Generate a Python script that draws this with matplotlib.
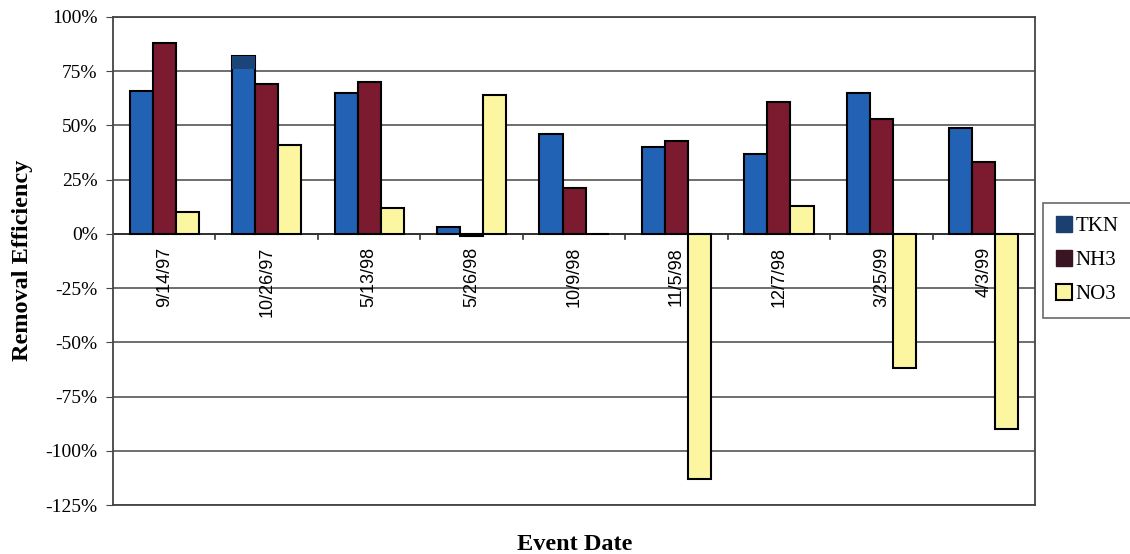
import numpy as np
import matplotlib.pyplot as plt
from matplotlib.lines import Line2D

dates = ["9/14/97", "10/26/97", "5/13/98", "5/26/98", "10/9/98",
         "11/5/98", "12/7/98", "3/25/99", "4/3/99"]
tkn = [66, 82, 65, 3, 46, 40, 37, 65, 49]
nh3 = [88, 69, 70, -1, 21, 43, 61, 53, 33]
no3 = [10, 41, 12, 64, 0, -113, 13, -62, -90]

tkn_col = "#2262b4"
nh3_col = "#7c1a30"
no3_col = "#fdf6a0"

fig = plt.figure(figsize=(11.3, 5.54), dpi=100)
ax = fig.add_axes([0.1, 0.0884, 0.816, 0.881])

x = np.arange(len(dates))
w = 0.225
ax.bar(x - w, tkn, w, color=tkn_col, edgecolor="black", linewidth=1.5, zorder=3)
ax.bar(x, nh3, w, color=nh3_col, edgecolor="black", linewidth=1.5, zorder=3)
ax.bar(x + w, no3, w, color=no3_col, edgecolor="black", linewidth=1.5, zorder=3)
# darker cap on the tallest TKN bar
i = int(np.argmax(tkn))
ax.bar(x[i] - w, 6, w, bottom=tkn[i] - 6, color="#1b4478", edgecolor="none", zorder=4)

ax.set_xlim(-0.5, len(dates) - 0.5)
ax.set_ylim(-125, 100)
ax.set_yticks(np.arange(-125, 101, 25))
ax.set_yticklabels([f"{v}%" for v in range(-125, 101, 25)],
                   family="Liberation Serif", fontsize=14)
ax.yaxis.grid(True, color="#555555", linewidth=1.2, zorder=0)
ax.axhline(0, color="#333333", linewidth=1.4, zorder=2)

ax.set_xticks([])
for xi, d in zip(x, dates):
    ax.text(xi, -6, d, rotation=90, ha="center", va="top",
            family="Liberation Sans", fontsize=13, zorder=5)
for b in np.arange(0.5, len(dates) - 1, 1):
    ax.plot([b, b], [0, -2.5], color="#333333", linewidth=1.2, zorder=2)

for s in ax.spines.values():
    s.set_color("#444444")
    s.set_linewidth(1.3)
ax.tick_params(axis="y", length=5, color="#444444", pad=6)

fig.text(0.02, 0.53, "Removal Efficiency", rotation=90, ha="center", va="center",
         family="Liberation Serif", fontsize=17.5, fontweight="bold")
fig.text(0.509, 0.018, "Event Date", ha="center", va="center",
         family="Liberation Serif", fontsize=17.5, fontweight="bold")

handles = [
    Line2D([], [], marker="s", linestyle="none", markersize=12,
           markerfacecolor="#1b3f70", markeredgecolor="#1b3f70"),
    Line2D([], [], marker="s", linestyle="none", markersize=12,
           markerfacecolor="#3a1422", markeredgecolor="#3a1422"),
    Line2D([], [], marker="s", linestyle="none", markersize=11,
           markerfacecolor=no3_col, markeredgecolor="black", markeredgewidth=1.5),
]
leg = fig.legend(handles, ["TKN", "NH3", "NO3"], loc="upper left",
                 bbox_to_anchor=(0.923, 0.634), prop={"family": "Liberation Serif", "size": 15},
                 frameon=True, fancybox=False, edgecolor="#444444",
                 handlelength=0.7, handletextpad=0.2, labelspacing=0.7,
                 borderpad=0.65, borderaxespad=0)
leg.get_frame().set_linewidth(1.2)

fig.savefig("out.png", dpi=100)
